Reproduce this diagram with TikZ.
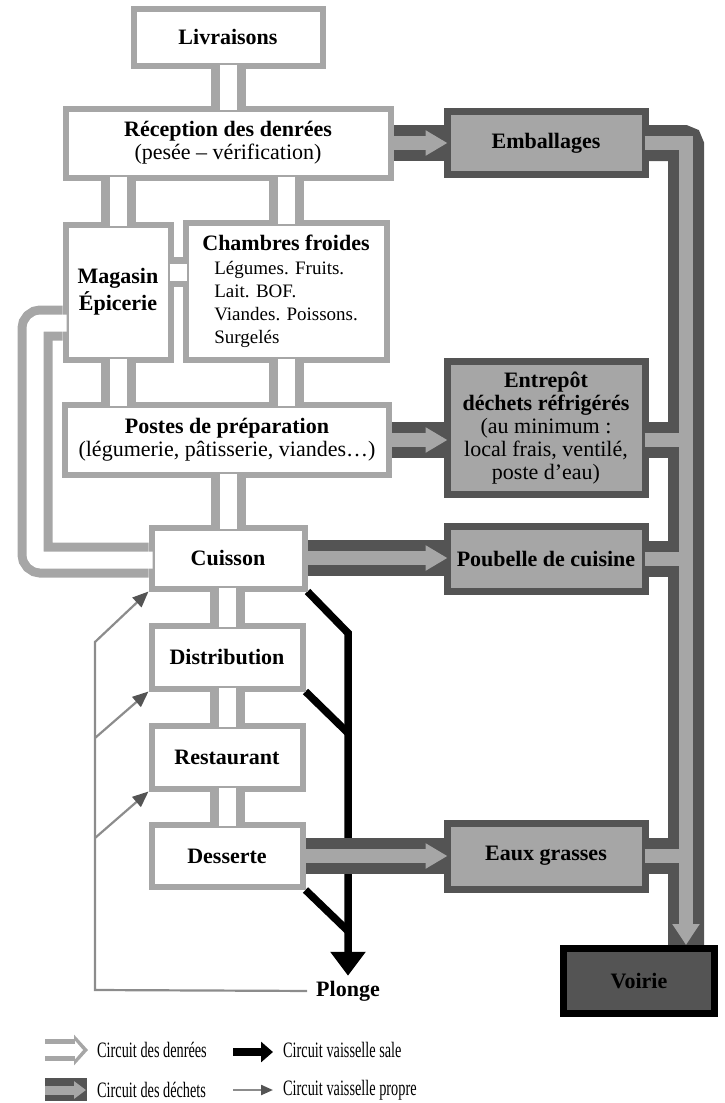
\documentclass[tikz,border=0pt]{standalone}
\usepackage{fontspec}
\setmainfont{Liberation Serif}
\usepackage{graphicx}
\usetikzlibrary{arrows.meta,positioning}

\definecolor{clair}{gray}{0.65}
\definecolor{fonce}{gray}{0.33}
\definecolor{trait}{gray}{0.55}

\pgfdeclarelayer{dessous}
\pgfdeclarelayer{dessus}
\pgfsetlayers{dessous,main,dessus}

\newcommand{\liste}{\mdseries\fontsize{19}{22}\selectfont}
\newcommand{\leg}[1]{\scalebox{0.65}[1]{#1}}

\begin{document}
\begin{tikzpicture}[
  x=1pt, y=-1pt,
  font=\fontsize{22}{23}\selectfont,
  local/.style={draw=clair, line width=6pt, fill=white, inner sep=0pt,
                align=center},
  dech/.style={draw=fonce, line width=7pt, fill=clair, inner sep=0pt,
               align=center},
  tube/.style={clair, line width=35pt},
  tubein/.style={white, line width=17pt, shorten <=-4pt, shorten >=-4pt},
  egout/.style={fonce, line width=36pt},
  egoutin/.style={clair, line width=14pt},
  fleche/.style={-{Triangle[width=24pt,length=22pt]}, shorten >=-4pt},
  sale/.style={black, line width=7.5pt},
  propre/.style={trait, line width=2.2pt,
                 -{Triangle[width=13pt,length=16pt,color=fonce]}},
  lgd/.style={anchor=west, inner sep=0pt},
]
\useasboundingbox (0,0) rectangle (724,1103);

% ---------------- locaux (circuit des denrees) --------------------------
\node[local, minimum width=189pt, minimum height=57pt] (liv) at (228,37)
  {\bfseries Livraisons};
\node[local, minimum width=325pt, minimum height=69pt] (rec) at (228,143)
  {\bfseries R\'eception des denr\'ees\\(pes\'ee -- v\'erification)};
\node[local, minimum width=105pt, minimum height=135pt] (mag) at (118,292)
  {\bfseries Magasin\\[2pt]\bfseries \'Epicerie};
\node[local, minimum width=201pt, minimum height=137pt, align=left] (chf)
  at (286,291)
  {\bfseries Chambres froides\\[1pt]
   \liste\hspace*{12pt}L\'egumes. Fruits.\\
   \liste\hspace*{12pt}Lait. BOF.\\
   \liste\hspace*{12pt}Viandes. Poissons.\\
   \liste\hspace*{12pt}Surgel\'es};
\node[local, minimum width=324pt, minimum height=70pt] (pos) at (227,440)
  {\bfseries Postes de pr\'eparation\\(l\'egumerie, p\^atisserie, viandes\dots)};
\node[local, minimum width=153pt, minimum height=61pt] (cui) at (228,558)
  {\bfseries Cuisson};
\node[local, minimum width=151pt, minimum height=63pt] (dis) at (227,657)
  {\bfseries Distribution};
\node[local, minimum width=151pt, minimum height=63pt] (res) at (227,757)
  {\bfseries Restaurant};
\node[local, minimum width=151pt, minimum height=62pt] (des) at (227,856)
  {\bfseries Desserte};

% ---------------- dechets -----------------------------------------------
\node[dech, minimum width=198pt, minimum height=63pt] (emb) at (546,143)
  {\bfseries Emballages};
\node[dech, minimum width=198pt, minimum height=133pt] (ent) at (546,428)
  {\bfseries Entrep\^ot\\\bfseries d\'echets r\'efrig\'er\'es\\
   \mdseries(au minimum :\\\mdseries local frais, ventil\'e,\\
   \mdseries poste d'eau)};
\node[dech, minimum width=198pt, minimum height=65pt] (pou) at (546,559)
  {\bfseries Poubelle de cuisine};
\node[dech, minimum width=198pt, minimum height=66pt] (eau) at (546,856)
  {\bfseries Eaux grasses};
\node[dech, draw=black, fill=fonce, minimum width=151pt, minimum height=65pt]
  (voi) at (639,981) {\bfseries Voirie};

\node[inner sep=1pt] (plo) at (348,991) {\bfseries Plonge};

\coordinate (g1) at (35,323);
\coordinate (g2) at (35,560);
\coordinate (mc) at (178,272);
\coordinate (col) at (686,143);
\coordinate (s1) at (348,633);
\coordinate (s2) at (348,733);
\coordinate (s3) at (348,931);
\coordinate (p0) at (95,990);
\coordinate (p1) at (95,642);
\coordinate (p2) at (95,738);
\coordinate (p3) at (95,838);

% ---------------- conduits : parois -------------------------------------
\begin{pgfonlayer}{dessous}
  \foreach \a/\b/\c in {liv/rec/liv, rec/mag/mag, rec/chf/chf, mag/pos/mag,
                        chf/pos/chf, pos/cui/cui, cui/dis/dis, dis/res/res,
                        res/des/des}
    \draw[tube] (\a.south -| \c) -- (\b.north -| \c);
  \draw[tube, line width=30pt] (mag.east |- mc) -- (chf.west |- mc);
  \draw[tube, rounded corners=6pt] (mag.west |- g1) -- (g1) -- (g2)
    -- (cui.west |- g2);

  % vaisselle sale
  \draw[sale, -{Triangle[width=34pt,length=24pt]}, shorten >=4pt]
    (cui.south east) -- (s1) -- (plo.north);
  \draw[sale] (dis.south east) -- (s2);
  \draw[sale] (des.south east) -- (s3);

  \foreach \a/\b in {rec/emb, pos/ent, cui/pou, des/eau}
    \draw[egout] (\a.east) -- (\a.east -| \b.west);
  \draw[egout, rounded corners=3pt] (emb.east) -- (col) -- (col |- voi.north);
  \foreach \b/\y in {ent/pos, pou/pou, eau/eau}
    \draw[egout] (\b.east |- \y.east) -- (col |- \y.east);
\end{pgfonlayer}

% ---------------- conduits : interieur ----------------------------------
\begin{pgfonlayer}{dessus}
  \foreach \a/\b/\c in {liv/rec/liv, rec/mag/mag, rec/chf/chf, mag/pos/mag,
                        chf/pos/chf, pos/cui/cui, cui/dis/dis, dis/res/res,
                        res/des/des}
    \draw[tubein] (\a.south -| \c) -- (\b.north -| \c);
  \draw[tubein] (mag.east |- mc) -- (chf.west |- mc);
  \draw[tubein, rounded corners=6pt] (mag.west |- g1) -- (g1) -- (g2)
    -- (cui.west |- g2);

  \foreach \a/\b in {rec/emb, pos/ent, cui/pou, des/eau}
    \draw[egoutin, fleche] (\a.east) -- (\a.east -| \b.west);
  \draw[egoutin, -{Triangle[width=26pt,length=21pt]}, shorten <=-4pt]
    (emb.east) -- (col) -- (col |- voi.north);
  \foreach \b/\y in {ent/pos, pou/pou, eau/eau}
    \draw[egoutin, shorten <=-4pt] (\b.east |- \y.east) -- (col |- \y.east);
\end{pgfonlayer}

% ---------------- vaisselle propre --------------------------------------
\draw[propre, shorten <=8pt] (plo.west) -- (p0) -- (p1) -- (cui.south west);
\draw[propre] (p2) -- (dis.south west);
\draw[propre] (p3) -- (res.south west);

% ---------------- legende -----------------------------------------------
\node[lgd] (lg1) at (97,1050) {\leg{Circuit des denr\'ees}};
\node[lgd] (lg2) at (97,1090) {\leg{Circuit des d\'echets}};
\node[lgd] (lg3) at (283,1050) {\leg{Circuit vaisselle sale}};
\node[lgd] (lg4) at (283,1090) {\leg{Circuit vaisselle propre}};

\draw[clair, line width=22pt, -{Triangle[width=30pt,length=14pt]}]
  ([xshift=-52pt]lg1.west) -- ([xshift=-9pt]lg1.west);
\draw[white, line width=12pt, -{Triangle[width=18pt,length=8pt]}]
  ([xshift=-52pt]lg1.west) -- ([xshift=-14pt]lg1.west);
\fill[fonce] ([xshift=-52pt,yshift=12pt]lg2.west)
  rectangle ([xshift=-10pt,yshift=-11pt]lg2.west);
\draw[clair, line width=9pt, -{Triangle[width=17pt,length=12pt]}]
  ([xshift=-52pt]lg2.west) -- ([xshift=-11pt]lg2.west);
\draw[sale, -{Triangle[width=20pt,length=12pt]}]
  ([xshift=-50pt,yshift=-2pt]lg3.west) -- ([xshift=-10pt,yshift=-2pt]lg3.west);
\draw[propre, -{Triangle[width=10pt,length=12pt,color=fonce]}]
  ([xshift=-50pt]lg4.west) -- ([xshift=-10pt]lg4.west);

\end{tikzpicture}
\end{document}
